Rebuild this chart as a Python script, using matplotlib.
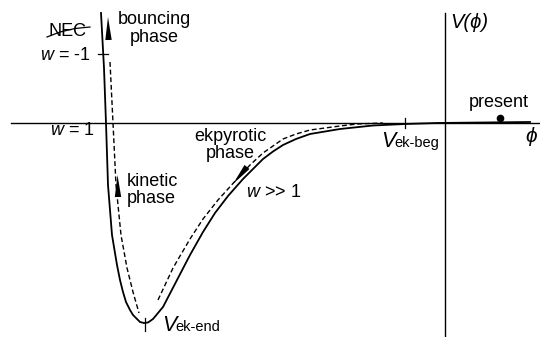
import numpy as np
import matplotlib
matplotlib.use('Agg')
import matplotlib.pyplot as plt
from matplotlib.patches import Polygon

plt.rcParams['font.family'] = ['Liberation Sans', 'DejaVu Sans']
plt.rcParams['mathtext.fontset'] = 'custom'
plt.rcParams['mathtext.it'] = 'Liberation Sans:italic'
plt.rcParams['mathtext.rm'] = 'Liberation Sans'

# Potential V(phi), schematic (phi, V)
phi_pot = [-344, -341, -339, -337, -333, -328, -325, -322, -319, -315, -312, -308,
           -305, -301, -297, -292, -282, -268, -255, -242, -230, -217, -202, -182,
           -172, -162, -149, -135, -105, -72, -40, -8, 85]
V_pot = [110, 55, 0, -62, -112, -142, -157, -169, -179, -187, -192, -196,
         -199, -200, -199.5, -196, -184, -157, -132, -109, -90, -73, -56, -36,
         -28.5, -22, -16, -11, -6, -2.5, -1, 0, 1]

# dashed trajectory, kinetic/bouncing branch
phi_kin = [-335, -332, -329, -324, -318, -312, -306]
V_kin = [61, 0, -62, -112, -145, -169, -190]

# dashed trajectory, ekpyrotic branch
phi_ek = [-287, -272, -255, -242, -227, -208, -195, -182, -162, -149, -135,
          -105, -88, -62]
V_ek = [-177, -145, -116, -96, -77, -56, -42, -30, -16, -11, -7,
        -3, -1, 0]

# arrowheads on the trajectory: (tip, base)
arrows = [((-337, 106), (-336.5, 83)),
          ((-327.5, -52), (-327, -74)),
          ((-212, -61), (-198, -44))]

present_phi, present_V = 55, 5


def P(x, y):
    # picture pixel -> plot coordinates
    return x - 445, 123 - y


fig = plt.figure(figsize=(5.4, 3.37), dpi=100)
ax = fig.add_axes([0, 0, 1, 1])
ax.set_xlim(-445, 95)
ax.set_ylim(-214, 123)
ax.axis('off')

# axes
ax.plot([-434, 95], [0, 0], color='black', lw=1.0)
ax.plot([0, 0], [110, -214], color='black', lw=1.0)

ax.plot(phi_pot, V_pot, color='black', lw=1.3, solid_joinstyle='round')
ax.plot(phi_kin, V_kin, color='black', lw=1.0, ls=(0, (3.5, 2)))
ax.plot(phi_ek, V_ek, color='black', lw=1.0, ls=(0, (3.5, 2)))

for tip, base in arrows:
    tip = np.array(tip, float)
    base = np.array(base, float)
    d = tip - base
    n = np.array([-d[1], d[0]]) / np.hypot(*d) * 3.2
    ax.add_patch(Polygon([tip, base + n, base - n], closed=True,
                         color='black', lw=0))

ax.plot(present_phi, present_V, 'o', color='black', ms=4.5)

# ticks
ax.plot(*zip(P(98, 54), P(108, 54)), color='black', lw=0.9)
ax.plot(*zip(P(145, 318), P(145, 331)), color='black', lw=0.9)
ax.plot(*zip(P(405, 118), P(405, 128)), color='black', lw=0.9)

fs = 13
ax.text(*P(68, 31), 'NEC', fontsize=fs, ha='center', va='center')
ax.plot(*zip(P(47, 37), P(60, 32), P(75, 28.5), P(90, 27)), color='black', lw=0.9)
ax.text(*P(91, 55), '$w$ = -1', fontsize=fs, ha='right', va='center')
ax.text(*P(95, 131), '$w$ = 1', fontsize=fs, ha='right', va='center')
ax.text(*P(154, 11), 'bouncing\nphase', fontsize=fs, ha='center', va='top',
        linespacing=1.05)
ax.text(*P(127, 190), 'kinetic\nphase', fontsize=fs, ha='left', va='center',
        linespacing=1.05)
ax.text(*P(230, 145), 'ekpyrotic\nphase', fontsize=fs, ha='center', va='center',
        linespacing=1.05)
ax.text(*P(246, 193), '$w$ >> 1', fontsize=fs, ha='left', va='center')
ax.text(*P(499, 103), 'present', fontsize=fs, ha='center', va='center')

ax.text(*P(381, 147), 'V', fontsize=15.5, style='italic', ha='left', va='baseline')
ax.text(*P(394, 147), 'ek-beg', fontsize=10.5, ha='left', va='baseline')
ax.text(*P(162, 331), 'V', fontsize=15.5, style='italic', ha='left', va='baseline')
ax.text(*P(175, 331), 'ek-end', fontsize=10.5, ha='left', va='baseline')

ax.text(*P(450, 13), 'V(\u03d5)', fontsize=14.5, style='italic', ha='left', va='top')
ax.text(*P(531, 137), '\u03d5', fontsize=15, style='italic', ha='center', va='center')

fig.savefig('out.png', dpi=100)
